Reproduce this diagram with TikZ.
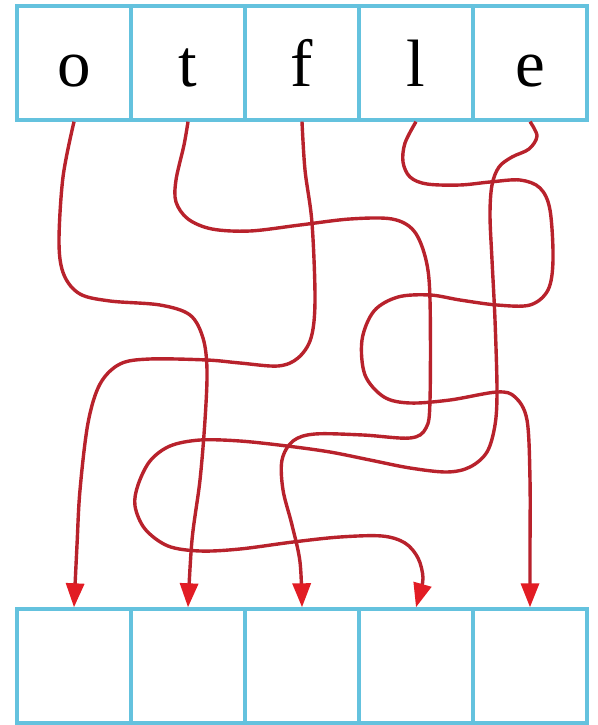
\documentclass[tikz,border=0pt]{standalone}
\usepackage{fontspec}
\setmainfont{Liberation Serif}
\usetikzlibrary{arrows.meta}
\definecolor{cellblue}{RGB}{100,194,222}
\definecolor{wire}{RGB}{184,34,44}
\definecolor{tipred}{RGB}{226,28,36}
\begin{document}
\begin{tikzpicture}[x=1pt,y=-1pt,
  cell/.style={draw=cellblue,line width=3.4pt,minimum width=114pt,minimum height=114pt,
    inner sep=0pt,text height=46pt,text depth=0pt,font=\fontsize{67}{67}\selectfont},
  wirepath/.style={draw=wire,line width=3.4pt,
    -{Triangle[length=24pt,width=18pt,color=tipred]}},
  sm/.style={smooth,tension=0.55}]
\useasboundingbox (0,0) rectangle (597,725);
% top cells
\node[cell] (t1) at (74,63) {o};
\node[cell] (t2) at (188,63) {t};
\node[cell] (t3) at (302,63) {f};
\node[cell] (t4) at (416,63) {l};
\node[cell] (t5) at (530,63) {e};
% bottom cells
\node[cell] (b1) at (74,666) {};
\node[cell] (b2) at (188,666) {};
\node[cell] (b3) at (302,666) {};
\node[cell] (b4) at (416,666) {};
\node[cell] (b5) at (530,666) {};
% o -> box 2
\draw[wirepath] plot[sm] coordinates {(t1.south) (63,177) (59,243) (64,275) (80,294)
  (110,301) (160,305) (190,315) (203,338) (207,370) (205,420) (200,480) (192,540) (b2.north)};
% t -> box 3
\draw[wirepath] plot[sm] coordinates {(t2.south) (184,145) (176,180) (176,202) (188,219)
  (212,229) (250,231) (300,225) (350,219) (392,219) (414,231) (426,260) (430,300)
  (430,400) (426,428) (410,438) (363,435) (315,434) (293,441) (282,460) (283,490)
  (292,525) (300,562) (b3.north)};
% f -> box 1
\draw[wirepath] plot[sm] coordinates {(t3.south) (305,170) (312,223) (315,300) (311,338)
  (298,358) (278,366) (240,363) (207,360) (150,359) (120,364) (100,384) (88,423)
  (80,490) (77,545) (b1.north)};
% l -> box 5
\draw[wirepath] plot[sm] coordinates {(t4.south) (405,143) (403,162) (410,177) (427,184)
  (460,185) (490,182) (520,180) (540,188) (550,210) (553,260) (548,290) (530,305)
  (497,305) (460,300) (430,295) (398,297) (374,311) (362,340) (365,375) (384,397)
  (410,403) (450,400) (497,392) (515,397) (527,420) (530,480) (530,550) (b5.north)};
% e -> box 4
\draw[wirepath] plot[sm] coordinates {(t5.south) (537,136) (529,149) (512,157) (499,167)
  (492,185) (490,215) (492,260) (495,320) (497,390) (495,425) (487,452) (470,467)
  (447,472) (410,468) (370,460) (330,452) (287,446) (240,441) (200,440) (170,446)
  (150,461) (138,485) (135,506) (145,529) (168,546) (200,551) (240,549) (293,542)
  (340,537) (382,536) (405,543) (418,558) (423,578) (419,596) (b4.north)};
\end{tikzpicture}
\end{document}
